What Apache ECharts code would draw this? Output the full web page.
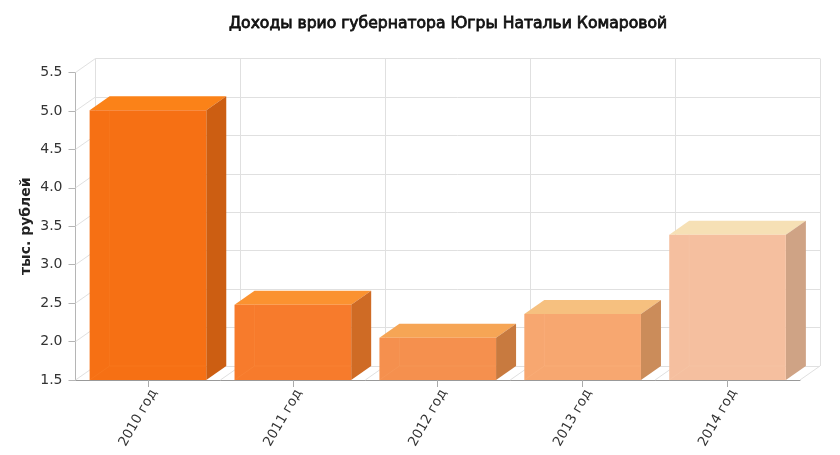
<!DOCTYPE html>
<html><head><meta charset="utf-8">
<style>html,body{margin:0;padding:0;background:#fff}#c{width:840px;height:455px}</style>
<script src="https://cdn.jsdelivr.net/npm/echarts@6/dist/echarts.min.js"></script>
</head><body><div id="c"></div>
<script>
const categories = ['2010 год','2011 год','2012 год','2013 год','2014 год'];
const values = [5.01, 2.48, 2.05, 2.36, 3.39];
const yTicks = [1.5,2.0,2.5,3.0,3.5,4.0,4.5,5.0,5.5];
const frontColors = ['#F67014','#F77B2C','#F5904E','#F7A770','#F5BF9F'];
const topColors   = ['#FB8218','#FB9230','#F6A555','#F6C07F','#F6E0B5'];
const sideColors  = ['#CC5E12','#CF6B25','#C87A3F','#CB8C5A','#CFA385'];
const innerColors = ['#FB8A30','#FB9548','#F9A468','#FABB88','#F8D0B0'];
const DX = 20, DY = 14, GRID = '#e0e0e0';
const font = '"DejaVu Sans", sans-serif';

const chart = echarts.init(document.getElementById('c'), null, {renderer:'canvas'});
const wallLine = (x1,y1,x2,y2) => ({type:'line',shape:{x1,y1,x2,y2},style:{stroke:GRID,lineWidth:1,fill:null}});

chart.setOption({
  animation:false,
  backgroundColor:'#fff',
  title:{text:'Доходы врио губернатора Югры Натальи Комаровой',left:443,top:11,textAlign:'center',
    textStyle:{fontFamily:font,fontSize:15.6,fontWeight:'normal',color:'#111',textBorderColor:'#111',textBorderWidth:0.8}},
  grid:[
    {left:75.5,right:40,top:72.5,bottom:75},
    {left:95.5,right:20,top:58.5,bottom:89}
  ],
  xAxis:[
    {type:'category',gridIndex:0,data:categories,
     axisLine:{lineStyle:{color:'#999',width:1}},
     axisTick:{show:true,alignWithLabel:true,length:7,lineStyle:{color:'#aaa'}},
     axisLabel:{rotate:60,interval:0,margin:7,verticalAlign:'top',fontFamily:font,fontSize:13.5,color:'#333'},
     splitLine:{show:false}},
    {type:'category',gridIndex:1,data:categories,
     axisLine:{show:false},axisTick:{show:false},axisLabel:{show:false},
     splitLine:{show:true,interval:0,lineStyle:{color:GRID,width:1}}}
  ],
  yAxis:[
    {type:'value',gridIndex:0,min:1.5,max:5.5,interval:0.5,
     name:'тыс. рублей',nameLocation:'middle',nameGap:42,nameMoveOverlap:false,
     nameTextStyle:{fontFamily:font,fontSize:14,fontWeight:'bold',color:'#222'},
     axisLine:{show:true,lineStyle:{color:'#b5b5b5'}},
     axisTick:{show:true,length:7,lineStyle:{color:'#b5b5b5'}},
     axisLabel:{fontFamily:font,fontSize:14,color:'#333',margin:13,formatter:v=>v.toFixed(1)},
     splitLine:{show:false}},
    {type:'value',gridIndex:1,min:1.5,max:5.5,interval:0.5,
     axisLine:{show:false},axisTick:{show:false},axisLabel:{show:false},
     splitLine:{show:true,lineStyle:{color:GRID,width:1}}}
  ],
  series:[
    {type:'custom',xAxisIndex:0,yAxisIndex:0,z:1,silent:true,
     data:yTicks.map(t=>[0,t]),
     renderItem:(p,api)=>{
       const c=api.coord([0,api.value(1)]);
       const x0=c[0]-api.size([1,0])[0]/2;
       return wallLine(x0,c[1],x0+DX,c[1]-DY);
     }},
    {type:'custom',xAxisIndex:0,yAxisIndex:0,z:1,silent:true,
     data:categories.map((_,i)=>[i,yTicks[0]]),
     renderItem:(p,api)=>{
       const c=api.coord([api.value(0),api.value(1)]);
       const x0=c[0]+api.size([1,0])[0]/2;
       return wallLine(x0,c[1],x0+DX,c[1]-DY);
     }},
    {type:'custom',xAxisIndex:0,yAxisIndex:0,z:3,silent:true,
     data:values.map((v,i)=>[i,v]),
     renderItem:(p,api)=>{
       const i=api.value(0),v=api.value(1);
       const top=api.coord([i,v]),bot=api.coord([i,yTicks[0]]);
       const w=api.size([1,0])[0]*0.805;
       const l=top[0]-w/2,r=top[0]+w/2,t=top[1],b=bot[1];
       const poly=(pts,fill)=>({type:'polygon',shape:{points:pts},style:{fill,stroke:null}});
       const inner=(x1,y1,x2,y2)=>({type:'line',shape:{x1,y1,x2,y2},style:{stroke:innerColors[i],lineWidth:1,opacity:0.28}});
       return {type:'group',children:[
         poly([[l,t],[l+DX,t-DY],[r+DX,t-DY],[r,t]],topColors[i]),
         poly([[r,t],[r+DX,t-DY],[r+DX,b-DY],[r,b]],sideColors[i]),
         poly([[l,t],[r,t],[r,b],[l,b]],frontColors[i]),
         inner(l+DX,t,l+DX,b-DY),
         inner(l+DX,b-DY,r,b-DY),
         inner(l,b,l+DX,b-DY)
       ]};
     }}
  ]
});
</script></body></html>
